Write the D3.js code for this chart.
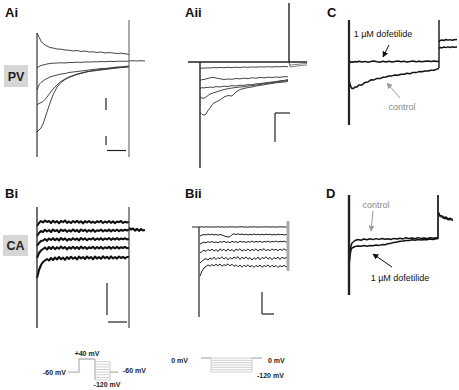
<!DOCTYPE html>
<html><head><meta charset="utf-8">
<script src="https://cdn.jsdelivr.net/npm/d3@7"></script>
<style>body{margin:0;background:#fff}svg{display:block}</style>
</head><body>
<script>
// ================= DATA =================
// Panel Ai (PV, +40 mV step then tail) : time in ms, current in pA
const aiTime = [0,10,20,30,40,60,80,100,130,160,200,240,280,320,360,400,440,480,520,560,600,640,680,720,760,800,840,880,920];
const aiTrace1 = [280,260,240,220,200,175,160,150,135,130,120,118,110,108,100,105,95,100,90,92,85,90,80,85,80,75,78,73,65];
const aiTrace2 = [-70,-60,-55,-50,-45,-40,-35,-30,-25,-22,-20,-18,-20,-15,-15,-12,-14,-10,-10,-8,-8,-5,-7,-4,-5,-3,-2,-3,0];
const aiTrace3 = [-290,-260,-240,-225,-215,-200,-185,-175,-160,-150,-140,-130,-125,-115,-110,-105,-100,-95,-90,-85,-80,-75,-75,-70,-65,-60,-60,-55,-50];
const aiTrace4 = [-440,-430,-425,-420,-415,-405,-385,-360,-320,-280,-240,-205,-180,-160,-145,-130,-120,-110,-102,-95,-90,-85,-80,-75,-70,-65,-62,-60,-55];
const aiTrace5 = [-710,-700,-690,-680,-670,-630,-570,-510,-420,-340,-260,-215,-185,-165,-150,-135,-125,-115,-105,-100,-95,-90,-85,-80,-75,-70,-65,-62,-60];
const aiTailTime = [920,960,1000,1040,1080];
const aiTail = [0,3,0,3,0];

// Panel Aii (PV, 0 mV holding, hyperpolarising steps)
const aiiTime = [0,10,20,40,60,80,100,130,160,200,240,280,320,360,400,440,480,520,560,600,640,680,720,760,800,840,880];
const aiiTrace1 = [-65,-63,-60,-62,-60,-58,-60,-56,-58,-55,-57,-53,-56,-52,-55,-50,-53,-50,-52,-48,-50,-47,-50,-46,-48,-45,-47];
const aiiTrace2 = [-180,-183,-175,-176,-168,-165,-158,-153,-160,-168,-175,-170,-173,-165,-168,-162,-166,-158,-162,-155,-158,-152,-155,-150,-153,-147,-148];
const aiiTrace3 = [-265,-260,-256,-260,-253,-256,-250,-254,-246,-250,-242,-245,-236,-240,-232,-234,-226,-228,-218,-216,-210,-205,-200,-195,-188,-184,-175];
const aiiTrace4 = [-347,-355,-360,-363,-350,-335,-320,-310,-300,-288,-275,-267,-260,-255,-250,-247,-240,-236,-230,-225,-218,-213,-206,-200,-195,-190,-184];
const aiiTrace5 = [-500,-515,-525,-530,-520,-485,-460,-415,-400,-380,-350,-335,-340,-300,-275,-265,-255,-250,-240,-233,-228,-220,-215,-208,-204,-200,-195];
const aiiHoldTime = [-120,1070];
const aiiHold = [0,0];
const aiiTailTime = [890,900,920,940,970,1000,1030,1070];
const aiiTailB = [0,-30,-30,-27,-24,-20,-18,-15];
const aiiTailC = [0,-50,-48,-44,-40,-36,-33,-30];

// Panel C (PV, control vs 1 µM dofetilide)
const cTime = [0,10,20,30,45,60,80,100,130,160,190,220,250,280,310,340,370,400,430,460,490,520,550,580,610,640,670,700,730,760,790,820,850,880,900];
const cDofetilide = [20,5,-5,2,-2,5,0,8,0,6,-3,4,10,2,-2,7,1,8,0,5,10,2,7,0,6,10,3,8,2,7,10,4,9,5,8];
const cControl = [-180,-220,-250,-265,-264,-250,-249,-230,-229,-204,-199,-178,-179,-164,-166,-153,-150,-140,-139,-130,-132,-123,-122,-112,-118,-104,-106,-96,-98,-90,-90,-82,-82,-71,-65];
const cTailTime = [900,910,930,950,970,990,1010,1030,1050,1080];
const cTailControl = [200,215,220,215,225,218,224,217,222,225];
const cTailDofetilide = [135,145,142,150,144,151,145,152,148,150];

// Panel Bi (CA, +40 mV step then tail)
const biTime = [0,20,40,60,80,100,120,140,160,180,200,220,240,260,280,300,320,340,360,380,400,420,440,460,480,500,520,540,560,580,600,620,640,660,680,700,720,740,760,780,800,820,840,860,880,900,920];
const biTrace1 = [40,70,90,75,95,80,90,70,92,75,88,68,90,78,95,72,85,70,90,76,92,74,87,66,88,75,90,72,84,70,88,78,90,70,85,74,90,72,86,69,84,78,90,71,82,75,80];
const biTrace2 = [-60,-30,-10,-20,2,-15,0,-20,5,-12,0,-22,4,-10,2,-18,-2,-15,6,-13,0,-20,5,-10,2,-16,0,-14,5,-18,-2,-10,4,-15,0,-12,4,-14,2,-10,5,-12,2,-8,4,-5,5];
const biTrace3 = [-160,-130,-110,-105,-90,-108,-85,-100,-82,-103,-86,-105,-80,-98,-84,-106,-88,-100,-82,-98,-85,-104,-80,-96,-84,-102,-86,-95,-80,-100,-85,-96,-82,-99,-85,-94,-80,-98,-84,-95,-82,-96,-85,-92,-83,-94,-90];
const biTrace4 = [-280,-230,-205,-190,-175,-195,-170,-190,-168,-192,-172,-188,-165,-185,-170,-194,-172,-186,-168,-188,-170,-190,-166,-184,-170,-189,-173,-182,-168,-187,-170,-185,-169,-188,-172,-183,-168,-186,-170,-184,-169,-185,-172,-180,-169,-182,-180];
const biTrace5 = [-480,-400,-350,-320,-305,-290,-305,-280,-300,-275,-295,-270,-292,-276,-298,-270,-290,-268,-288,-272,-294,-266,-285,-270,-290,-265,-284,-270,-292,-266,-286,-270,-288,-264,-282,-268,-288,-264,-284,-270,-286,-266,-280,-268,-284,-270,-270];
const biTailTime = [920,940,960,980,1000,1020,1040,1060,1080];
const biTail = [20,5,15,-5,10,-8,8,-4,0];

// Panel Bii (CA, 0 mV holding, hyperpolarising steps)
const biiTime = [0,20,40,60,80,100,120,140,160,180,200,220,240,260,280,300,320,340,360,380,400,420,440,460,480,500,520,540,560,580,600,620,640,660,680,700,720,740,760,780,800,820,840,860,880];
const biiTrace1 = [0,2,-2,3,-1,2,-2,1,0,3,-2,2,-1,1,-2,3,0,2,-2,1,0,3,-1,1,-2,2,0,3,-1,1,-2,2,0,3,-1,1,0,2,-2,1,0,2,-1,1,0];
const biiTrace2 = [-90,-80,-75,-80,-70,-78,-72,-80,-74,-82,-75,-80,-88,-95,-100,-96,-75,-68,-75,-69,-76,-70,-78,-72,-80,-73,-78,-70,-77,-72,-79,-73,-78,-71,-77,-72,-80,-74,-79,-72,-78,-73,-80,-75,-80];
const biiTrace3 = [-170,-160,-152,-158,-146,-155,-144,-156,-148,-159,-145,-154,-142,-156,-147,-158,-143,-153,-146,-157,-142,-152,-145,-156,-144,-153,-140,-154,-143,-151,-142,-155,-144,-150,-141,-153,-143,-149,-140,-152,-143,-148,-141,-150,-147];
const biiTrace4 = [-260,-245,-232,-244,-223,-238,-220,-242,-226,-245,-218,-236,-222,-243,-219,-239,-224,-246,-220,-235,-217,-242,-225,-238,-219,-240,-223,-236,-218,-241,-222,-234,-216,-239,-224,-237,-219,-233,-221,-238,-220,-234,-218,-232,-225];
const biiTrace5 = [-360,-340,-325,-316,-330,-308,-324,-302,-326,-305,-318,-298,-322,-303,-328,-306,-320,-300,-314,-296,-325,-302,-318,-299,-323,-305,-330,-308,-324,-300,-327,-304,-316,-298,-322,-303,-328,-305,-319,-300,-325,-302,-315,-306,-310];
const biiTrace6 = [-490,-440,-410,-395,-378,-392,-375,-390,-372,-388,-370,-393,-376,-385,-368,-389,-372,-394,-378,-398,-380,-402,-382,-396,-378,-400,-384,-404,-383,-398,-380,-403,-386,-395,-379,-402,-382,-399,-385,-405,-386,-398,-382,-400,-395];
const biiHoldTime = [-80,0];
const biiHold = [0,0];

// Panel D (CA, control vs 1 µM dofetilide)
const dTime = [0,10,20,30,60,90,120,150,180,210,240,270,300,330,360,390,420,450,480,510,540,570,600,630,660,690,720,750,780,810,840,870,890];
const dControl = [-220,-120,-60,-30,-5,5,-2,10,2,12,4,14,6,15,8,13,5,16,10,18,11,22,14,20,12,24,16,21,14,23,17,22,20];
const dDofetilide = [-260,-160,-100,-80,-65,-60,-63,-56,-62,-55,-58,-50,-54,-46,-48,-38,-32,-24,-20,-12,-10,-4,-6,2,-3,5,0,6,2,10,5,12,12];
const dTailTime = [890,900,910,930,950,970,990,1010,1040];
const dTailControl = [270,270,245,242,225,230,212,218,205];
const dTailDofetilide = [255,255,235,228,215,216,202,205,195];

// Voltage protocols (mV, ms)
const prot1Hold = -60, prot1Pre = 40;
const prot1Tests = [20,0,-20,-40,-60,-80,-100,-120];
const prot2Hold = 0;
const prot2Tests = [0,-20,-40,-60,-80,-100,-120];

// Labels
const panelLabels = ["Ai","Aii","C","Bi","Bii","D"];
const rowLabels = ["PV","CA"];
const drugLabel = "1 µM dofetilide";
const controlLabel = "control";

// ================= DRAWING =================
const svg = d3.select("body").append("svg").attr("width",459).attr("height",390)
  .style("font-family","'Liberation Sans', Arial, sans-serif");

const defs = svg.append("defs");
[["arrowBlack","#111"],["arrowGray","#9a9a9a"]].forEach(([id,c])=>{
  defs.append("marker").attr("id",id).attr("viewBox","0 0 10 10").attr("refX",9).attr("refY",5)
    .attr("markerWidth",6).attr("markerHeight",6).attr("markerUnits","userSpaceOnUse").attr("orient","auto")
    .append("path").attr("d","M0,0L10,5L0,10z").attr("fill",c);
});

function panel(xd,xr,yd,yr){
  return {x:d3.scaleLinear().domain(xd).range(xr), y:d3.scaleLinear().domain(yd).range(yr)};
}
function trace(p,times,values,color,width){
  const line = d3.line().x(d=>p.x(d[0])).y(d=>p.y(d[1]));
  svg.append("path").datum(d3.zip(times,values)).attr("d",line)
    .attr("fill","none").attr("stroke",color).attr("stroke-width",width)
    .attr("stroke-linejoin","round");
}
function vline(p,t,v0,v1,color,width){
  svg.append("line").attr("x1",p.x(t)).attr("x2",p.x(t)).attr("y1",p.y(v0)).attr("y2",p.y(v1))
    .attr("stroke",color).attr("stroke-width",width);
}
function hline(p,t0,t1,v,color,width){
  svg.append("line").attr("x1",p.x(t0)).attr("x2",p.x(t1)).attr("y1",p.y(v)).attr("y2",p.y(v))
    .attr("stroke",color).attr("stroke-width",width);
}
function arrow(p,t0,v0,t1,v1,id,color){
  svg.append("line").attr("x1",p.x(t0)).attr("y1",p.y(v0)).attr("x2",p.x(t1)).attr("y2",p.y(v1))
    .attr("stroke",color).attr("stroke-width",1).attr("marker-end",`url(#${id})`);
}
function label(p,t,v,txt,color,size,anchor,weight){
  svg.append("text").attr("x",p.x(t)).attr("y",p.y(v)).text(txt).attr("fill",color)
    .attr("font-size",size).attr("text-anchor",anchor||"middle").attr("font-weight",weight||"normal");
}

// ---- Ai ----
const pAi = panel([0,1080],[37,145],[410,-960],[20,157]);
[aiTrace1,aiTrace2,aiTrace3,aiTrace4,aiTrace5].forEach(tr=>trace(pAi,aiTime,tr,"#333",0.9));
trace(pAi,aiTailTime,aiTail,"#333",0.9);
vline(pAi,0,280,-960,"#222",1.1);
vline(pAi,920,410,-960,"#555",1);
vline(pAi,690,-370,-490,"#222",1.2);
vline(pAi,690,-750,-840,"#222",1.2);
hline(pAi,700,890,-895,"#222",1.2);

// ---- Aii ----
const pAii = panel([-120,1070],[188,307],[590,-1060],[3,168]);
[aiiTrace1,aiiTrace2,aiiTrace3,aiiTrace4,aiiTrace5].forEach(tr=>trace(pAii,aiiTime,tr,"#333",0.9));
trace(pAii,aiiTailTime,aiiTailB,"#777",0.9);
trace(pAii,aiiTailTime,aiiTailC,"#777",0.9);
trace(pAii,aiiHoldTime,aiiHold,"#222",1.7);
vline(pAii,0,0,-1060,"#222",1.4);
vline(pAii,890,590,0,"#222",1.4);
hline(pAii,750,900,-510,"#222",1.2);
vline(pAii,750,-510,-800,"#222",1.2);

// ---- C ----
const pC = panel([0,1080],[349,457],[420,-630],[20,125]);
trace(pC,cTime,cDofetilide,"#111",1.5);
trace(pC,cTime,cControl,"#111",1.5);
trace(pC,cTailTime,cTailControl,"#111",1.4);
trace(pC,cTailTime,cTailDofetilide,"#111",1.4);
vline(pC,0,420,-630,"#222",2.2);
vline(pC,900,420,-60,"#222",1.5);
label(pC,340,250,drugLabel,"#111",9);
arrow(pC,400,170,340,50,"arrowBlack","#111");
label(pC,530,-480,controlLabel,"#8a8a8a",9);
arrow(pC,510,-360,380,-210,"arrowGray","#9a9a9a");

// ---- Bi ----
const pBi = panel([0,1080],[37,145],[230,-980],[207,328]);
[biTrace1,biTrace2,biTrace3,biTrace4,biTrace5].forEach(tr=>trace(pBi,biTime,tr,"#111",2.1));
trace(pBi,biTailTime,biTail,"#111",2.2);
vline(pBi,0,230,-980,"#222",1.3);
vline(pBi,920,230,-980,"#333",1.1);
vline(pBi,700,-530,-850,"#222",1.2);
hline(pBi,710,900,-920,"#222",1.2);

// ---- Bii ----
const pBii = panel([-80,880],[192,288],[60,-900],[221,317]);
[biiTrace1,biiTrace2,biiTrace3,biiTrace4,biiTrace5,biiTrace6].forEach(tr=>trace(pBii,biiTime,tr,"#222",1));
trace(pBii,biiHoldTime,biiHold,"#222",1);
vline(pBii,-10,0,-900,"#222",1.2);
vline(pBii,880,60,-440,"#aaaaaa",3);
vline(pBii,620,-650,-870,"#222",1.2);
hline(pBii,620,740,-870,"#222",1.2);

// ---- D ----
const pD = panel([0,1040],[349,453],[450,-550],[195,295]);
trace(pD,dTime,dControl,"#111",1.5);
trace(pD,dTime,dDofetilide,"#111",1.5);
trace(pD,dTailTime,dTailControl,"#111",1.3);
trace(pD,dTailTime,dTailDofetilide,"#111",1.3);
vline(pD,0,450,-550,"#222",2.4);
vline(pD,890,450,10,"#222",1.8);
label(pD,270,320,controlLabel,"#8a8a8a",9);
arrow(pD,240,290,220,90,"arrowGray","#9a9a9a");
label(pD,510,-410,drugLabel,"#111",9);
arrow(pD,430,-270,240,-140,"arrowBlack","#111");

// ---- Protocol 1 ----
const pP1 = panel([-1100,3900],[68,118],[40,-120],[359,380]);
const protCol = "#b5b5b5";
trace(pP1,[-1100,0,0,1600],[prot1Hold,prot1Hold,prot1Pre,prot1Pre],protCol,1.3);
prot1Tests.forEach(v=>hline(pP1,1600,3100,v,"#d0d0d0",1));
vline(pP1,1600,prot1Pre,d3.min(prot1Tests),protCol,1.2);
vline(pP1,3100,d3.max(prot1Tests),d3.min(prot1Tests),"#d0d0d0",1);
hline(pP1,3100,3900,prot1Hold,protCol,1.3);
label(pP1,-1300,prot1Hold-22,"-60 mV","#222",7,"end","bold");
label(pP1,800,prot1Pre+25,"+40 mV","#222",7,"middle","bold");
label(pP1,2800,-175,"-120 mV","#222",7,"middle","bold");
label(pP1,4400,prot1Hold-10,"-60 mV","#222",7,"start","bold");

// ---- Protocol 2 ----
const pP2 = panel([-1000,5100],[201,262],[0,-120],[358,372]);
hline(pP2,-1000,0,prot2Hold,protCol,1.3);
prot2Tests.forEach(v=>hline(pP2,0,4100,v,"#d0d0d0",1));
vline(pP2,0,prot2Hold,d3.min(prot2Tests),"#d0d0d0",1);
vline(pP2,4100,prot2Hold,d3.min(prot2Tests),"#d0d0d0",1);
hline(pP2,4100,5100,prot2Hold,protCol,1.3);
label(pP2,-2300,-40,"0 mV","#222",7,"end","bold");
label(pP2,5700,-40,"0 mV","#222",7,"start","bold");
label(pP2,4600,-170,"-120 mV","#222",7,"start","bold");

// ---- Panel labels & row boxes ----
const labelPos = [[5,17],[185,17],[327,17],[5,198],[185,198],[326,198]];
panelLabels.forEach((t,i)=>svg.append("text").attr("x",labelPos[i][0]).attr("y",labelPos[i][1])
  .text(t).attr("font-size",13).attr("font-weight","bold").attr("fill","#111"));
const boxPos = [[4,65,24,22],[3,235,25,21]];
rowLabels.forEach((t,i)=>{
  const b = boxPos[i];
  svg.append("rect").attr("x",b[0]).attr("y",b[1]).attr("width",b[2]).attr("height",b[3]).attr("fill","#d6d6d6");
  svg.append("text").attr("x",b[0]+b[2]/2).attr("y",b[1]+b[3]/2+4.5).text(t).attr("text-anchor","middle")
    .attr("font-size",12.5).attr("font-weight","bold").attr("fill","#222");
});
</script>
</body></html>
